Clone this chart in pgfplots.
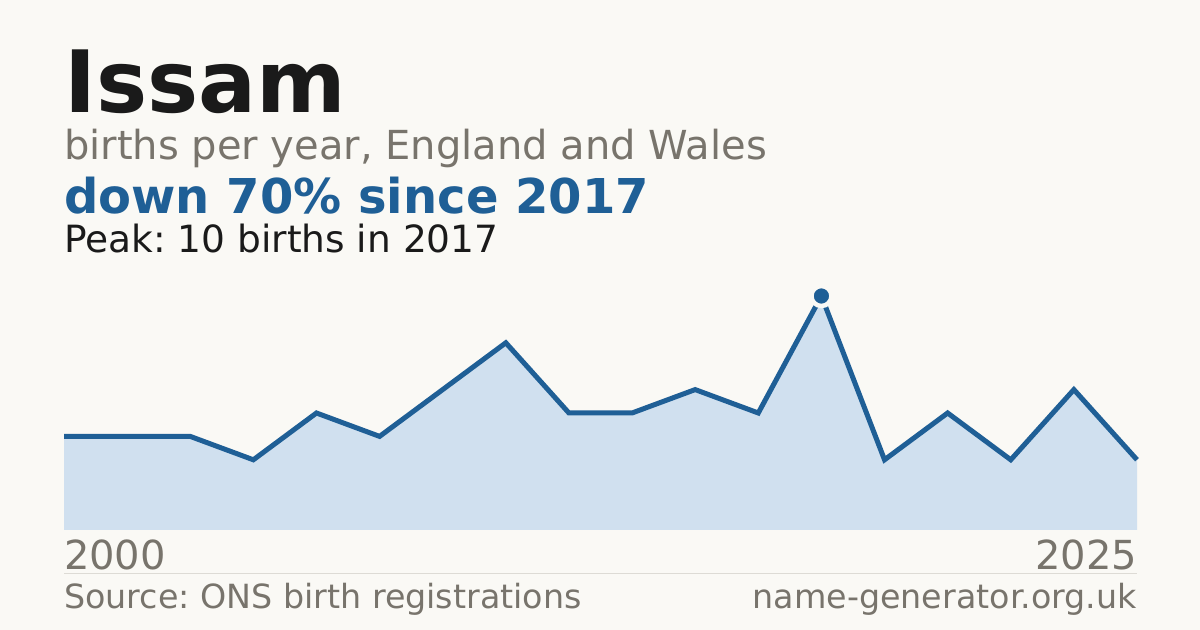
\documentclass[border=0pt]{standalone}
\usepackage{pgfplots}
\pgfplotsset{compat=1.18}
\usepackage{fontspec}
\setmainfont{DejaVu Sans}
\frenchspacing

\definecolor{bg}{RGB}{250,249,245}
\definecolor{ink}{RGB}{26,26,26}
\definecolor{muted}{RGB}{120,116,108}
\definecolor{accent}{RGB}{31,95,150}
\definecolor{areafill}{RGB}{208,224,239}
\definecolor{rule}{RGB}{221,219,213}

\begin{document}
\begin{tikzpicture}[x=1bp,y=1bp]
  % canvas
  \fill[bg] (0,0) rectangle (1200,630);

  % header
  \node[anchor=base west,inner sep=0,text=ink] at (64,517)
    {\fontsize{86bp}{90bp}\selectfont\bfseries Issam};
  \node[anchor=base west,inner sep=0,text=muted] at (64,470)
    {\fontsize{40bp}{44bp}\selectfont births per year, England and Wales};
  \node[anchor=base west,inner sep=0,text=accent] at (64,416)
    {\fontsize{48bp}{52bp}\selectfont\bfseries down 70\% since 2017};
  \node[anchor=base west,inner sep=0,text=ink] at (64,377)
    {\fontsize{37.5bp}{42bp}\selectfont Peak: 10 births in 2017};

  \begin{axis}[
      at={(64bp,100bp)}, anchor=south west,
      width=1073bp, height=234bp, scale only axis,
      xmin=0, xmax=17, ymin=0, ymax=10,
      clip=false,
      hide y axis,
      axis x line*=bottom,
      x axis line style={draw=none},
      major tick length=0pt,
      xtick={0,17},
      xticklabels={\rlap{2000},\llap{2025}},
      xticklabel style={anchor=base, text=muted, font=\fontsize{40bp}{44bp}\selectfont, yshift=-40bp, inner sep=0pt},
    ]
    % area under the series
    \addplot[fill=areafill, draw=none] coordinates {
      (0,4) (1,4) (2,4) (3,3) (4,5) (5,4) (6,6) (7,8) (8,5)
      (9,5) (10,6) (11,5) (12,10) (13,3) (14,5) (15,3) (16,6) (17,3)
    } \closedcycle;
    % series line
    \addplot[accent, line width=5bp] coordinates {
      (0,4) (1,4) (2,4) (3,3) (4,5) (5,4) (6,6) (7,8) (8,5)
      (9,5) (10,6) (11,5) (12,10) (13,3) (14,5) (15,3) (16,6) (17,3)
    };
    % peak marker
    \addplot[only marks, mark=*, mark size=10bp,
      mark options={draw=bg, line width=4.5bp, fill=accent}] coordinates {(12,10)};
  \end{axis}

  % footer
  \draw[rule, line width=1bp] (64,56) -- (1137,56);
  \node[anchor=base west,inner sep=0,text=muted] at (64,21)
    {\fontsize{33.3bp}{38bp}\selectfont Source: ONS birth registrations};
  \node[anchor=base east,inner sep=0,text=muted] at (1137,21)
    {\fontsize{33.3bp}{38bp}\selectfont name-generator.org.uk};
\end{tikzpicture}
\end{document}
